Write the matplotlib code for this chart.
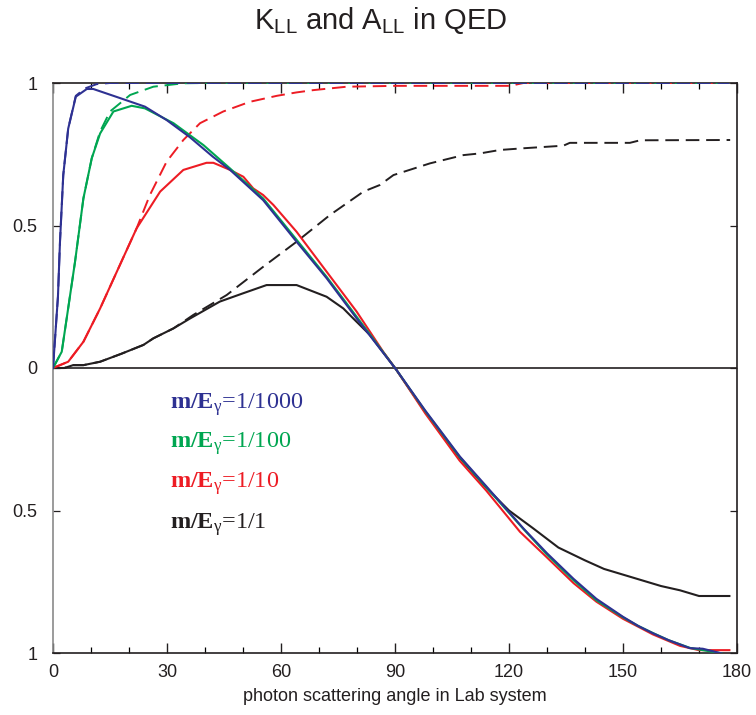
import matplotlib
matplotlib.use("Agg")
import matplotlib.pyplot as plt
from matplotlib.ticker import MultipleLocator, FixedLocator

plt.rcParams['font.family'] = ['Liberation Sans', 'DejaVu Sans']
plt.rcParams['mathtext.fontset'] = 'custom'
plt.rcParams['mathtext.rm'] = 'Liberation Serif'
plt.rcParams['mathtext.bf'] = 'Liberation Serif:bold'
plt.rcParams['mathtext.it'] = 'Liberation Serif:italic'
plt.rcParams['mathtext.sf'] = 'Liberation Sans'

# ---- data (angle in degrees) ----
blue_k_x = [0, 1.3, 1.84, 2.7, 4, 6, 8.9, 10.6, 17, 24.2, 29.9, 36, 42.1, 46.6, 55.3, 64.1, 72, 79.9, 90.4,
            98, 107.1, 114.1, 123.8, 130, 137, 143, 150, 154, 157.9, 162, 167.6, 171, 175.5, 178]
blue_k_y = [0, 0.25, 0.443, 0.677, 0.84, 0.952, 0.979, 0.979, 0.95, 0.917, 0.87, 0.81, 0.741, 0.695, 0.589, 0.443,
            0.315, 0.174, -0.007, -0.15, -0.311, -0.416, -0.563, -0.65, -0.74, -0.81, -0.873, -0.905, -0.931,
            -0.955, -0.983, -0.985, -1.0, -1.01]
blue_a_x = [0, 1.3, 1.84, 2.7, 4, 6, 8.4, 11.5, 15, 178]
blue_a_y = [0, 0.25, 0.443, 0.677, 0.84, 0.955, 0.981, 0.996, 1.0, 1.0]

green_k_x = [0, 2.3, 4, 5.8, 8, 10.2, 12.4, 15.9, 20.7, 24.2, 31.7, 39.6, 46.6, 55.3, 64.1, 72, 79.9, 90.4,
             98, 107, 114, 123.8, 130, 137, 143, 150, 154, 157.9, 162, 167.6, 171, 175.5, 178]
green_k_y = [0, 0.057, 0.21, 0.373, 0.595, 0.736, 0.823, 0.9, 0.92, 0.911, 0.859, 0.782, 0.7, 0.595, 0.45,
             0.32, 0.18, -0.007, -0.152, -0.312, -0.418, -0.565, -0.655, -0.745, -0.815, -0.875, -0.905,
             -0.93, -0.955, -0.982, -0.99, -1.0, -1.01]
green_a_x = [0, 2.3, 4, 5.8, 8, 10.2, 12.4, 15, 20.3, 26.4, 34.3, 40, 178]
green_a_y = [0, 0.057, 0.21, 0.373, 0.595, 0.736, 0.83, 0.9, 0.958, 0.987, 0.999, 1.0, 1.0]

red_k_x = [0, 4, 8, 12.4, 16.8, 22, 28.2, 34.3, 40.4, 42.2, 46.6, 50.1, 52.7, 55.3, 58, 64.1, 72, 79.9, 86.9,
           90.4, 98, 107, 114, 122.9, 130, 137, 143, 150, 157.9, 165, 170, 172, 178]
red_k_y = [0, 0.022, 0.092, 0.209, 0.338, 0.49, 0.619, 0.695, 0.72, 0.72, 0.695, 0.671, 0.63, 0.607, 0.572,
           0.478, 0.338, 0.198, 0.057, -0.007, -0.16, -0.325, -0.43, -0.575, -0.665, -0.755, -0.82, -0.88,
           -0.935, -0.975, -0.99, -0.99, -0.99]
red_a_x = [0, 4, 8, 12.4, 16.8, 22, 25.5, 29.9, 34.3, 38.7, 44.8, 51.8, 58.9, 64.1, 68.5, 77.3, 90, 120.3,
           123.8, 178]
red_a_y = [0, 0.022, 0.092, 0.209, 0.338, 0.49, 0.607, 0.724, 0.8, 0.859, 0.9, 0.934, 0.955, 0.967, 0.975,
           0.987, 0.99, 0.99, 1.0, 1.0]

black_k_x = [0, 3, 5.3, 8, 12.4, 18, 23.8, 26.4, 31.7, 36.1, 43.9, 50, 56.2, 64.1, 72, 76.4, 79, 83.4, 90,
             98, 107, 114, 120, 126.4, 133, 140, 145, 150, 155, 160, 165, 170, 178]
black_k_y = [0, 0, 0.01, 0.01, 0.022, 0.05, 0.081, 0.104, 0.139, 0.174, 0.233, 0.262, 0.291, 0.291, 0.25,
             0.209, 0.174, 0.116, 0, -0.155, -0.315, -0.42, -0.5, -0.563, -0.63, -0.675, -0.705, -0.725,
             -0.745, -0.765, -0.78, -0.8, -0.8]
black_a_x = [0, 3, 5.3, 8, 12.4, 18, 23.8, 26.4, 31.7, 36.9, 45.7, 55.3, 64.1, 72.9, 81.7, 86, 89.6, 99.2,
             108, 112.4, 117.6, 123.8, 134.3, 136, 151.8, 154.5, 178.2]
black_a_y = [0, 0, 0.01, 0.01, 0.022, 0.05, 0.081, 0.104, 0.139, 0.186, 0.256, 0.355, 0.443, 0.537, 0.619,
             0.642, 0.677, 0.718, 0.747, 0.753, 0.765, 0.771, 0.78, 0.79, 0.79, 0.799, 0.8]

labels = ['1/1000', '1/100', '1/10', '1/1']
colors = ['#2E3192', '#00A651', '#ED1C24', '#231F20']
x_ticks = [0, 30, 60, 90, 120, 150, 180]
y_ticks = [-1, -0.5, 0, 0.5, 1]
y_tick_labels = ['1', '0.5', '0', '0.5', '1']

series = [
    (blue_k_x, blue_k_y, blue_a_x, blue_a_y),
    (green_k_x, green_k_y, green_a_x, green_a_y),
    (red_k_x, red_k_y, red_a_x, red_a_y),
    (black_k_x, black_k_y, black_a_x, black_a_y),
]

fig = plt.figure(figsize=(7.56, 7.15), dpi=100)
ax = fig.add_axes([53 / 756, 1 - 653 / 715, (737 - 53) / 756, (653 - 83) / 715])

ax.axhline(0, color='#231F20', lw=1.2, zorder=1)

# draw black first so blue ends on top
for i in [3, 2, 1, 0]:
    kx, ky, axx, ayy = series[i]
    ax.plot(axx, ayy, color=colors[i], lw=1.4, linestyle=(0, (7, 3.5)), zorder=2 + (3 - i))
    ax.plot(kx, ky, color=colors[i], lw=1.5, zorder=6 + (3 - i))

ax.set_xlim(0, 180)
ax.set_ylim(-1, 1)
ax.xaxis.set_major_locator(FixedLocator(x_ticks))
ax.xaxis.set_minor_locator(MultipleLocator(10))
ax.yaxis.set_major_locator(FixedLocator(y_ticks))
ax.set_yticklabels(y_tick_labels)
ax.tick_params(axis='x', which='major', direction='in', length=7, width=1.0, top=True,
               labelsize=13, pad=8, colors='#231F20')
ax.tick_params(axis='x', which='minor', direction='in', length=4, width=0.9, top=True)
ax.tick_params(axis='y', which='major', direction='in', length=5, width=0.9, right=True,
               labelsize=13, pad=11, colors='#231F20')
for s in ['top', 'right', 'bottom']:
    ax.spines[s].set_color('#231F20')
    ax.spines[s].set_linewidth(1.2)
ax.spines['left'].set_color('#8a8a8a')
ax.spines['left'].set_linewidth(1.2)

ax.set_xlabel('photon scattering angle in Lab system', fontsize=13, color='#231F20', labelpad=3)
ax.xaxis.set_label_coords(0.5, -0.062)

fig.text(0.503, 0.972, r'K$_{\mathsf{LL}}$ and A$_{\mathsf{LL}}$ in QED', ha='center', va='center',
         fontsize=21, color='#231F20')

ly = [-0.13, -0.265, -0.405, -0.548]
for i in range(4):
    ax.text(30.8, ly[i], r'$\mathbf{m/E}_{\mathrm{γ}}$=' + labels[i], color=colors[i],
            fontsize=17.5, family='Liberation Serif', va='center', ha='left')

fig.savefig('out.png', dpi=100)
